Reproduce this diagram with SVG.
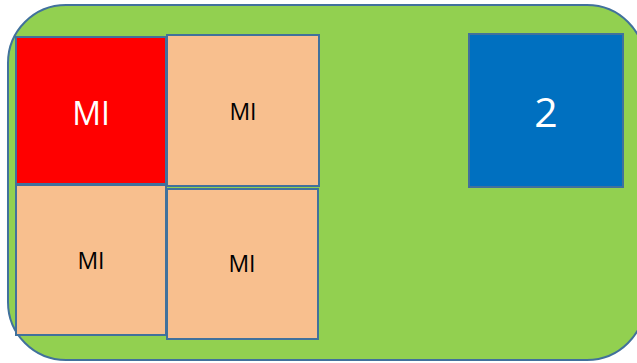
<svg xmlns="http://www.w3.org/2000/svg" width="637" height="363" viewBox="0 0 637 363">
<style>
.box{stroke:#41719C;stroke-width:2}
.peach{fill:#F8BF8E}
.t{font-family:"Open Sans","Liberation Sans",sans-serif;text-anchor:middle}
</style>
<g id="container">
<rect x="8" y="5" width="637" height="355" rx="58" ry="58" fill="#92D050" stroke="#41719C" stroke-width="2"/>
</g>
<g id="connectors"></g>
<g id="node-red">
<rect class="box" x="16" y="37" width="150" height="147" fill="#FF0000"/>
<text class="t" x="91" y="125" font-size="32" fill="#FFFFFF">MI</text>
</g>
<g id="node-top-right">
<rect class="box peach" x="167" y="35" width="152" height="151"/>
<text class="t" x="243" y="120" font-size="23" fill="#000000">MI</text>
</g>
<g id="node-bottom-left">
<rect class="box peach" x="16" y="185" width="150" height="150"/>
<text class="t" x="91" y="269" font-size="23" fill="#000000">MI</text>
</g>
<g id="node-bottom-right">
<rect class="box peach" x="167" y="189" width="151" height="150"/>
<text class="t" x="242" y="272" font-size="23" fill="#000000">MI</text>
</g>
<g id="node-2">
<rect class="box" x="469" y="34" width="154" height="153" fill="#0070C0"/>
<text class="t" x="546" y="127" font-size="41" fill="#FFFFFF">2</text>
</g>
</svg>
